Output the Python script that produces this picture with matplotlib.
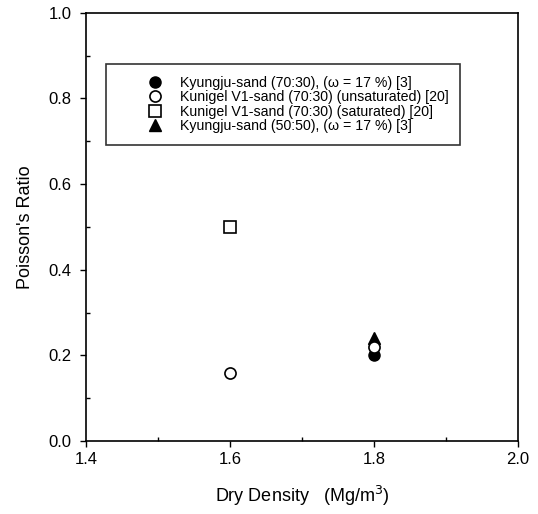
import matplotlib
matplotlib.use("Agg")
import matplotlib.pyplot as plt
from matplotlib.ticker import MultipleLocator

plt.rcParams['font.family'] = ['Liberation Sans', 'DejaVu Sans']

# datos
ky7030_x = [1.8]
ky7030_y = [0.20]
kun_unsat_x = [1.6, 1.8]
kun_unsat_y = [0.16, 0.22]
kun_sat_x = [1.6]
kun_sat_y = [0.50]
ky5050_x = [1.8]
ky5050_y = [0.24]

fig = plt.figure(figsize=(5.38, 5.14), dpi=100)
ax = fig.add_axes([0.160, 0.142, 0.803, 0.833])

ax.plot(ky7030_x, ky7030_y, 'o', color='black', ms=8, label='Kyungju-sand (70:30), (ω = 17 %) [3]')
ax.plot(ky5050_x, ky5050_y, '^', color='black', ms=8, label='Kyungju-sand (50:50), (ω = 17 %) [3]')
ax.plot(kun_unsat_x, kun_unsat_y, 'o', mfc='white', mec='black', mew=1.2, ms=8,
        label='Kunigel V1-sand (70:30) (unsaturated) [20]')
ax.plot(kun_sat_x, kun_sat_y, 's', mfc='white', mec='black', mew=1.2, ms=8,
        label='Kunigel V1-sand (70:30) (saturated) [20]')

ax.set_xlim(1.4, 2.0)
ax.set_ylim(0.0, 1.0)
ax.xaxis.set_major_locator(MultipleLocator(0.2))
ax.xaxis.set_minor_locator(MultipleLocator(0.1))
ax.yaxis.set_major_locator(MultipleLocator(0.2))
ax.yaxis.set_minor_locator(MultipleLocator(0.1))
ax.tick_params(which='major', direction='out', length=4, width=1, labelsize=12)
ax.tick_params(axis='x', which='major', pad=4)
ax.tick_params(axis='y', which='major', pad=6.5)
ax.tick_params(which='minor', direction='in', length=3, width=1)
for s in ax.spines.values():
    s.set_linewidth(1.2)

ax.set_xlabel('Dry Density   (Mg/m$^3$)', fontsize=13, labelpad=12)
ax.set_ylabel("Poisson's Ratio", fontsize=13, labelpad=10)

h, l = ax.get_legend_handles_labels()
orden = [0, 2, 3, 1]
fs = 10.2
leg = ax.legend([h[i] for i in orden], [l[i] for i in orden], loc='upper left',
                bbox_to_anchor=(0.046, 0.881), fontsize=fs, frameon=True, fancybox=False,
                edgecolor='black', handletextpad=-0.9, borderpad=0.85, labelspacing=0.03,
                handlelength=5.25, borderaxespad=0)
leg.get_frame().set_linewidth(1.2)

fig.savefig('out.png', dpi=100)
